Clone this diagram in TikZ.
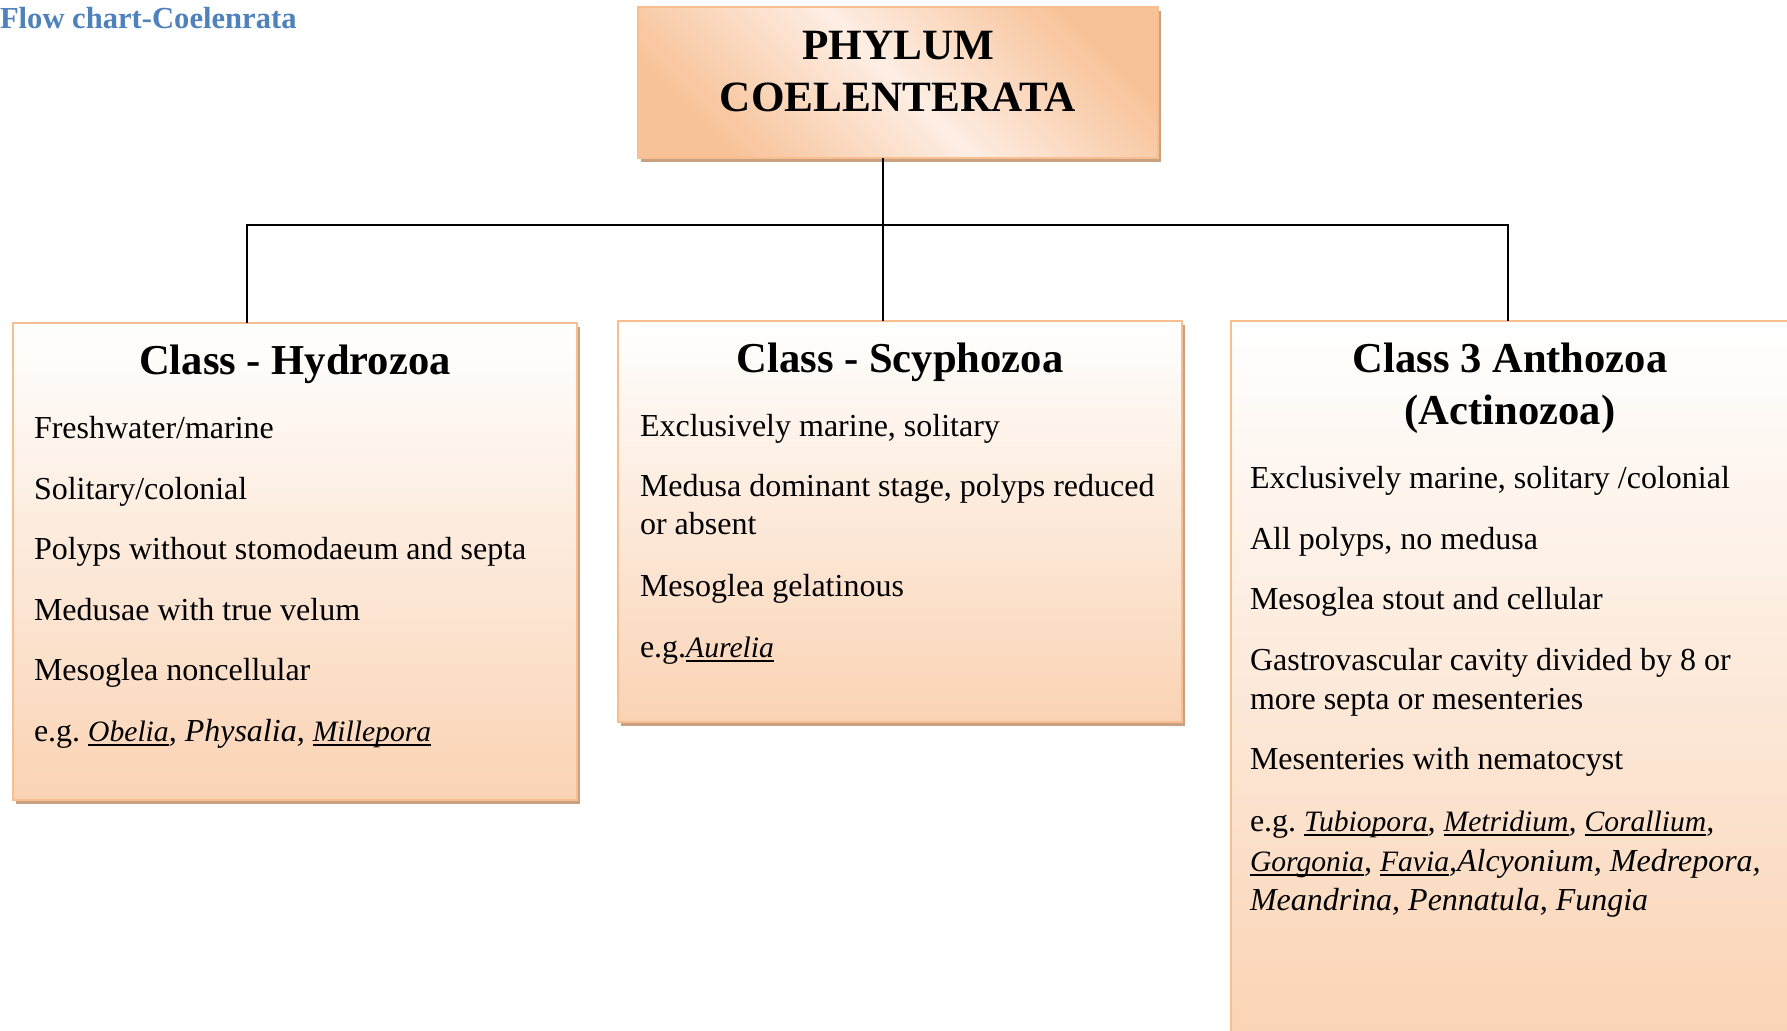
\documentclass[tikz,border=0pt]{standalone}
\usepackage{fontspec}
\setmainfont{Liberation Serif}
\usetikzlibrary{shadows}
\frenchspacing

\definecolor{titleblue}{RGB}{79,129,189}
\definecolor{boxline}{RGB}{248,190,143}
\definecolor{boxshadow}{RGB}{201,161,128}
\definecolor{peach}{RGB}{250,211,180}
\definecolor{apricot}{RGB}{248,194,152}
\definecolor{cream}{RGB}{253,238,228}

\newsavebox{\genusbox}
\newcommand{\genus}[1]{\sbox{\genusbox}{\fontsize{29.6}{38}\selectfont #1}%
  \rlap{\rule[-5pt]{\wd\genusbox}{1.6pt}}\usebox{\genusbox}}

\begin{document}
\begin{tikzpicture}[x=1pt, y=-1pt,
  every node/.style={inner sep=0pt, outer sep=0pt},
  classbox/.style={draw=boxline, line width=2.5pt, top color=white, bottom color=peach,
    drop shadow={shadow xshift=3pt, shadow yshift=-4pt, fill=boxshadow, opacity=1},
    minimum width=564pt, anchor=north west},
  phylumbox/.style={draw=boxline, line width=2.5pt, left color=apricot, right color=apricot,
    middle color=cream, shading angle=135,
    drop shadow={shadow xshift=3pt, shadow yshift=-4pt, fill=boxshadow, opacity=1},
    minimum width=520pt, minimum height=151pt, anchor=north west},
  heading/.style={anchor=base, font=\fontsize{42.6}{50}\selectfont\bfseries},
  item/.style={anchor=base west, font=\fontsize{32}{38}\selectfont},
  connector/.style={line width=2pt}]

  \useasboundingbox (0,0) rectangle (1787,1030);
  \clip (0,0) rectangle (1787,1030);

  \node[anchor=base west, text=titleblue, font=\fontsize{30.6}{36}\selectfont\bfseries]
    (title) at (0,29) {Flow chart-Coelenrata};

  % phylum
  \node[phylumbox] (phylum) at (638,7) {};
  \node[heading, font=\fontsize{43.2}{50}\selectfont\bfseries] (phylumA) at (898,60) {PHYLUM};
  \node[heading, font=\fontsize{43.2}{50}\selectfont\bfseries] (phylumB) at (898,112) {COELENTERATA};

  % classes
  \node[classbox, minimum height=477pt] (hydro) at (13,323) {};
  \node[classbox, minimum height=401pt] (scypho) at (618,321) {};
  \node[classbox, minimum width=560pt, minimum height=730pt] (antho) at (1231,321) {};

  \coordinate (split) at (883,225);
  \draw[connector] (split |- phylum.south) -- (split |- scypho.north);
  \draw[connector] ([xshift=-48pt]hydro.north) |- (split) -| ([xshift=-3pt]antho.north);

  % Hydrozoa
  \node[heading] (hydroHead) at (295,374) {Class - Hydrozoa};
  \node[item] (hydro1) at (34,438) {Freshwater/marine};
  \node[item] (hydro2) at (34,499) {Solitary/colonial};
  \node[item] (hydro3) at (34,559) {Polyps without stomodaeum and septa};
  \node[item] (hydro4) at (34,620) {Medusae with true velum};
  \node[item] (hydro5) at (34,680) {Mesoglea noncellular};
  \node[item] (hydro6) at (34,741) {e.g. \textit{\genus{Obelia}, Physalia, \genus{Millepora}}};

  % Scyphozoa
  \node[heading] (scyphoHead) at (900,372) {Class - Scyphozoa};
  \node[item] (scypho1) at (640,436) {Exclusively marine, solitary};
  \node[item] (scypho2) at (640,496) {Medusa dominant stage, polyps reduced};
  \node[item] (scypho2b) at (640,534) {or absent};
  \node[item] (scypho3) at (640,596) {Mesoglea gelatinous};
  \node[item] (scypho4) at (640,657) {e.g.\textit{\genus{Aurelia}}};

  % Anthozoa
  \node[heading] (anthoHead) at (1510,372) {Class 3 Anthozoa};
  \node[heading] (anthoHeadB) at (1510,424) {(Actinozoa)};
  \node[item] (antho1) at (1250,488) {Exclusively marine, solitary /colonial};
  \node[item] (antho2) at (1250,549) {All polyps, no medusa};
  \node[item] (antho3) at (1250,609) {Mesoglea stout and cellular};
  \node[item] (antho4) at (1250,670) {Gastrovascular cavity divided by 8 or};
  \node[item] (antho4b) at (1250,709) {more septa or mesenteries};
  \node[item] (antho5) at (1250,769) {Mesenteries with nematocyst};
  \node[item] (antho6) at (1250,831) {e.g. \textit{\genus{Tubiopora}, \genus{Metridium}, \genus{Corallium},}};
  \node[item] (antho6b) at (1250,871) {\textit{\genus{Gorgonia}, \genus{Favia},Alcyonium, Medrepora,}};
  \node[item] (antho6c) at (1250,910) {\textit{Meandrina, Pennatula, Fungia}};

\end{tikzpicture}
\end{document}
